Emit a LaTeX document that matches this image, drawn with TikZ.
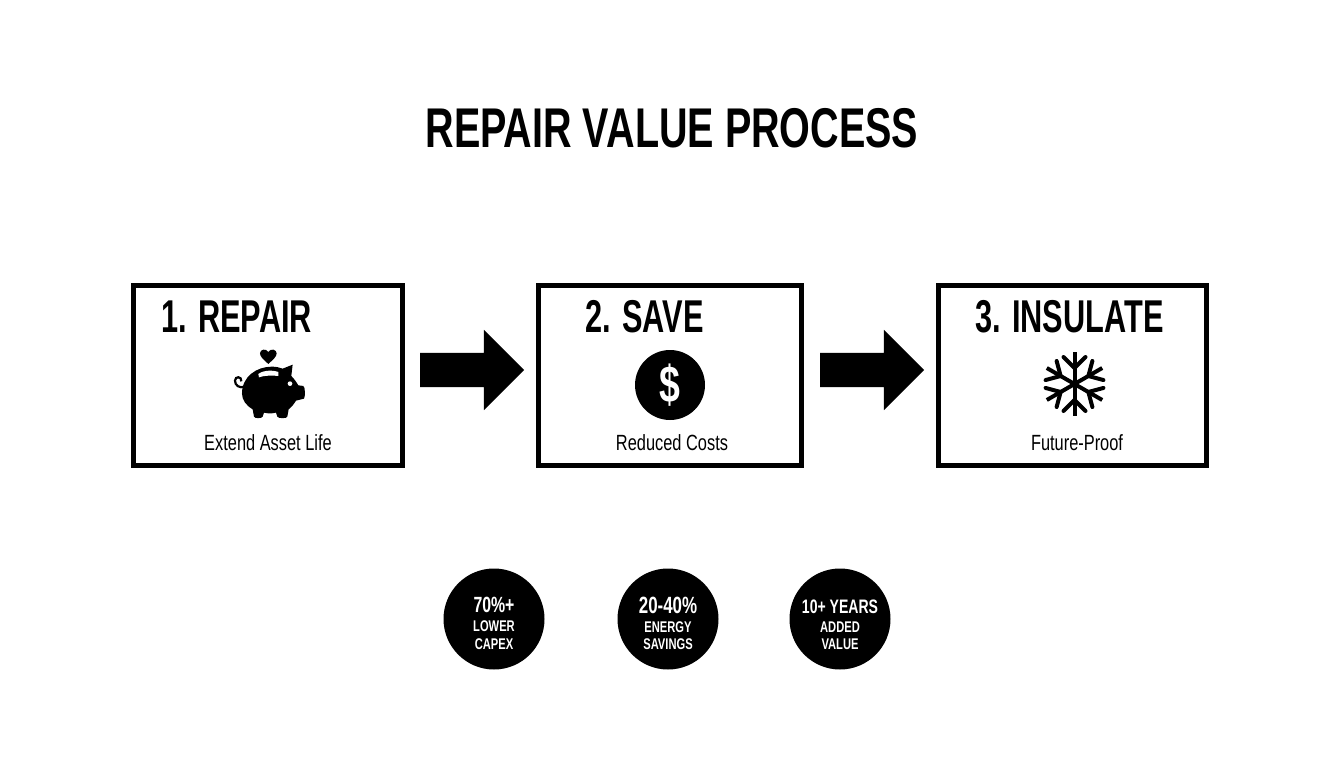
\documentclass[tikz,border=0pt]{standalone}
\usepackage{fontspec}
\usetikzlibrary{shapes.arrows}
\setmainfont{Liberation Sans}[FakeStretch=0.72]
\newfontfamily\ftitle{Liberation Sans Bold}[FakeStretch=0.706]
\newfontfamily\fhead{Liberation Sans Bold}[FakeStretch=0.668]
\newfontfamily\fcap{Liberation Sans}[FakeStretch=0.745]
\newfontfamily\fdollar{Liberation Sans Bold}[FakeStretch=0.72]
\tikzset{
  x=1pt,y=-1pt,
  stepbox/.style={draw=black,line width=5pt,fill=white},
  headtxt/.style={anchor=base west,inner sep=0pt,font=\fontsize{46}{46}\fhead},
  captxt/.style={anchor=base,inner sep=0pt,font=\fontsize{22}{22}\fcap},
  blockarrow/.style={single arrow,fill=black,inner sep=17pt,outer sep=0pt,minimum height=104pt,single arrow head extend=23pt,single arrow tip angle=90,anchor=west},
  statdot/.style={circle,fill=black,minimum size=101pt,inner sep=0pt},
  statbig/.style={anchor=base,inner sep=0pt,text=white},
  statsm/.style={anchor=base,inner sep=0pt,text=white,font=\fontsize{15.5}{15.5}\selectfont\bfseries},
  flakeline/.style={line width=4pt,line cap=butt,draw=black},
}
\begin{document}
\begin{tikzpicture}
\useasboundingbox (0,0) rectangle (1344,768);
\fill[white] (0,0) rectangle (1344,768);
\node[anchor=base,inner sep=0pt,font=\fontsize{56}{56}\ftitle] (title) at (672,147) {REPAIR VALUE PROCESS};

\node[stepbox,minimum width=269pt,minimum height=180pt,inner sep=0pt] (box1) at (268,375.5) {};
\node[stepbox,minimum width=263pt,minimum height=180pt,inner sep=0pt] (box2) at (670,375.5) {};
\node[stepbox,minimum width=268pt,minimum height=180pt,inner sep=0pt] (box3) at (1072.5,375.5) {};

\node[headtxt] (h1) at (161,332) {1. REPAIR};
\node[headtxt] (h2) at (585,332) {2. SAVE};
\node[headtxt] (h3) at (975,332) {3. INSULATE};

\node[captxt] (c1) at (268,450) {Extend Asset Life};
\node[captxt] (c2) at (672,450) {Reduced Costs};
\node[captxt] (c3) at (1077,450) {Future-Proof};

\node[blockarrow] (a1) at (420,370) {};
\node[blockarrow] (a2) at (820,370) {};

% piggy bank
\begin{scope}[shift={(120,270)},x=0.3333pt,y=-0.3333pt]
  \fill (445,282) .. controls (430,268) and (420,260) .. (420,250)
        .. controls (420,238) and (438,234) .. (445,246)
        .. controls (452,234) and (470,238) .. (470,250)
        .. controls (470,260) and (460,268) .. (445,282) -- cycle;
  \fill (366,370) .. controls (366,320) and (410,290) .. (455,290)
        .. controls (468,290) and (478,292) .. (488,296)
        -- (518,284) -- (514,318)
        .. controls (524,328) and (530,338) .. (535,346)
        -- (550,348) .. controls (556,350) and (556,382) .. (552,386)
        -- (528,392) .. controls (522,402) and (514,412) .. (506,418)
        -- (502,440) .. controls (502,446) and (474,446) .. (472,440)
        -- (468,428) .. controls (456,431) and (444,431) .. (432,428)
        -- (428,440) .. controls (426,446) and (404,446) .. (402,440)
        -- (398,418) .. controls (378,406) and (366,390) .. (366,370) -- cycle;
  \draw[line width=2.2pt] (374,350) .. controls (358,356) and (345,346) .. (345,332)
        .. controls (345,318) and (366,318) .. (364,334);
  \fill[white] (415,312) .. controls (430,300) and (460,300) .. (475,306) -- (475,318)
        .. controls (460,316) and (432,316) .. (417,322) -- cycle;
  \fill[white] (510,341) circle[radius=7];
\end{scope}

% dollar
\node[circle,fill=black,minimum size=70pt,inner sep=0pt,text=white,font=\fontsize{52}{52}\fdollar] (dollar) at (670,385) {\$};

% snowflake
\begin{scope}[shift={(1074.5,384)}]
  \foreach \a in {90,150,210,270,330,30}{
    \begin{scope}[rotate=\a]
      \draw[flakeline] (0,0) -- (32,0);
      \draw[flakeline,line cap=round] (27,-11) -- (16,0) -- (27,11);
    \end{scope}
  }
\end{scope}

% stats
\node[statdot] (s1) at (494,619) {};
\node[statdot] (s2) at (668,619) {};
\node[statdot] (s3) at (840,619) {};
\node[statbig,font=\fontsize{22}{22}\selectfont\bfseries] (s1a) at (494,612) {70\%+};
\node[statsm] (s1b) at (494,631) {LOWER};
\node[statsm] (s1c) at (494,649) {CAPEX};
\node[statbig,font=\fontsize{23.5}{23.5}\selectfont\bfseries] (s2a) at (668,613) {20-40\%};
\node[statsm] (s2b) at (668,632) {ENERGY};
\node[statsm] (s2c) at (668,649) {SAVINGS};
\node[statbig,font=\fontsize{19.5}{19.5}\selectfont\bfseries] (s3a) at (840,613) {10+ YEARS};
\node[statsm] (s3b) at (840,632) {ADDED};
\node[statsm] (s3c) at (840,649) {VALUE};
\end{tikzpicture}
\end{document}
